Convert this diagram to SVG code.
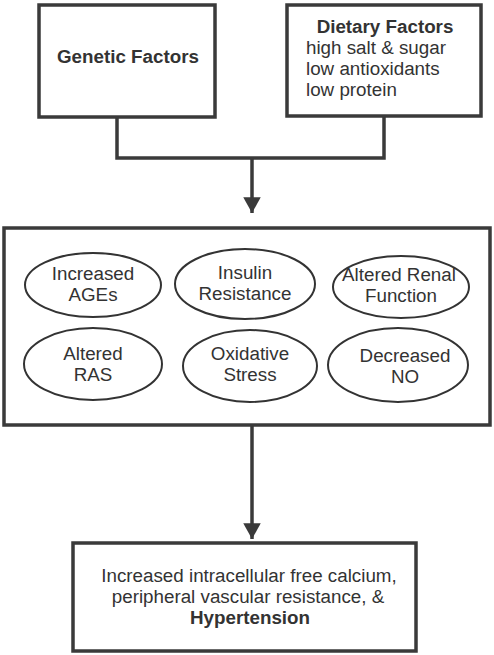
<svg xmlns="http://www.w3.org/2000/svg" width="494" height="655" viewBox="0 0 494 655">
<style>
.box{fill:#fff;stroke:#3a3a3a;stroke-width:3.5}
.ell{fill:#fff;stroke:#333;stroke-width:2}
.con{fill:none;stroke:#3a3a3a;stroke-width:3.5}
text{font-family:"Liberation Sans",Arial,sans-serif;font-size:18.8px;fill:#333}
.c{text-anchor:middle}
.b{font-weight:bold}
</style>
<defs>
<marker id="arr" markerWidth="5" markerHeight="5" refX="4.5" refY="2.5" orient="auto" markerUnits="strokeWidth">
<path d="M0,0 L4.5,2.5 L0,5 Z" fill="#3a3a3a"/>
</marker>
</defs>
<rect width="494" height="655" fill="#fff"/>
<g id="connectors">
<path class="con" d="M117,117 V158 H384 V116"/>
<path class="con" d="M252,158 V213" marker-end="url(#arr)"/>
<path class="con" d="M252,426 V539" marker-end="url(#arr)"/>
</g>
<g id="genetic">
<rect class="box" x="39" y="5" width="176" height="112"/>
<text class="c b" x="128" y="63">Genetic Factors</text>
</g>
<g id="dietary">
<rect class="box" x="287" y="5" width="194" height="111"/>
<text class="c b" x="385" y="33">Dietary Factors</text>
<text x="306" y="54">high salt &amp; sugar</text>
<text x="306" y="75">low antioxidants</text>
<text x="306" y="96">low protein</text>
</g>
<g id="mechanisms">
<rect class="box" x="4" y="228" width="486" height="197"/>
</g>
<g id="ages">
<ellipse class="ell" cx="93" cy="285" rx="68" ry="32"/>
<text class="c" x="93" y="280">Increased</text>
<text class="c" x="93" y="301">AGEs</text>
</g>
<g id="insulin">
<ellipse class="ell" cx="245" cy="284" rx="70" ry="35"/>
<text class="c" x="245" y="279">Insulin</text>
<text class="c" x="245" y="300">Resistance</text>
</g>
<g id="renal">
<ellipse class="ell" cx="401" cy="287" rx="68" ry="31"/>
<text class="c" x="399" y="281">Altered Renal</text>
<text class="c" x="401" y="302">Function</text>
</g>
<g id="ras">
<ellipse class="ell" cx="93" cy="364" rx="69" ry="36"/>
<text class="c" x="93" y="360">Altered</text>
<text class="c" x="93" y="381">RAS</text>
</g>
<g id="oxidative">
<ellipse class="ell" cx="250" cy="366" rx="67" ry="36"/>
<text class="c" x="250" y="360">Oxidative</text>
<text class="c" x="250" y="381">Stress</text>
</g>
<g id="no">
<ellipse class="ell" cx="398" cy="365" rx="70" ry="37"/>
<text class="c" x="405" y="362">Decreased</text>
<text class="c" x="405" y="383">NO</text>
</g>
<g id="outcome">
<rect class="box" x="73" y="543" width="343" height="108"/>
<text class="c" x="249" y="582">Increased intracellular free calcium,</text>
<text class="c" x="248" y="603">peripheral vascular resistance, &amp;</text>
<text class="c b" x="250" y="624">Hypertension</text>
</g>
</svg>
